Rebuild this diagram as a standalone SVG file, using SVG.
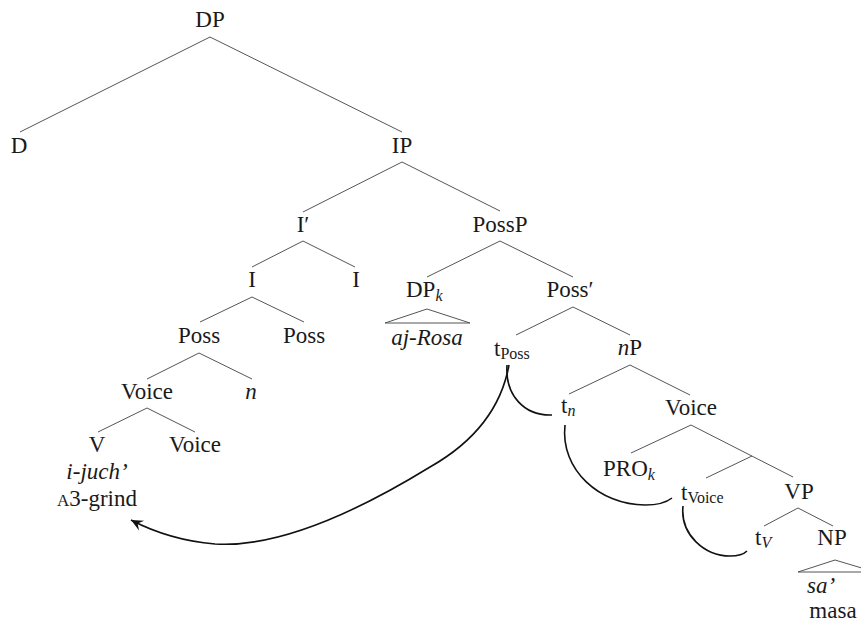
<svg xmlns="http://www.w3.org/2000/svg" width="861" height="623" viewBox="0 0 861 623">
<style>
text{font-size:23px;fill:#1a1a1a}
.m{text-anchor:middle}
.it{font-style:italic}
.sub{font-size:16px}
.br{stroke:#555;stroke-width:1;fill:none}
.tri{stroke:#555;stroke-width:1;fill:none}
.mv{stroke:#111;stroke-width:1.6;fill:none}
</style>
<defs>
<marker id="arr" viewBox="-13 -7 15 14" markerWidth="15" markerHeight="14" refX="0" refY="0" orient="auto" markerUnits="userSpaceOnUse">
<path d="M0,0 L-12,-5.5 L-7.5,0 L-12,5.5 Z" fill="#111"/>
</marker>
</defs>
<rect width="861" height="623" fill="#fff"/>
<g id="connectors">
<path class="br" d="M210,37 L20,132 M210,37 L402,132"/>
<path class="br" d="M402,162 L303,212 M402,162 L500,211"/>
<path class="br" d="M303,241 L252,267 M303,241 L355,267"/>
<path class="br" d="M252,297 L200,322 M252,297 L304,322"/>
<path class="br" d="M199,353 L147,379 M199,353 L252,379"/>
<path class="br" d="M147,408 L98,432 M147,408 L195,432"/>
<path class="br" d="M500,241 L427,277 M500,241 L573,277"/>
<path class="br" d="M573,307 L516,335 M573,307 L630,335"/>
<path class="br" d="M630,365 L569,394 M630,365 L690,395"/>
<path class="br" d="M691,425 L631,453 M691,425 L793,477"/>
<path class="br" d="M752,456 L706,478"/>
<path class="br" d="M798,508 L764,526 M798,508 L833,526"/>
<path class="tri" d="M427,309 L385,323 L470,323 Z"/>
<path class="tri" d="M835,560 L798,572 L875,572 Z"/>
<path class="mv" d="M509,365 C499,420 460,450 430,467 C360,510 280,548 215,544 C180,541 152,531 131,520" marker-end="url(#arr)"/>
<path class="mv" d="M507,365 C505,395 524,416 552,415"/>
<path class="mv" d="M565,425 C560,470 600,505 645,505 C658,505 667,502 672,498"/>
<path class="mv" d="M683,506 C680,535 705,556 730,556 C738,556 744,554 747,551"/>
</g>
<g font-family="Liberation Serif, serif">
<g id="n-DP"><text class="m" x="210" y="27">DP</text></g>
<g id="n-D"><text class="m" x="19" y="153">D</text></g>
<g id="n-IP"><text class="m" x="402" y="153">IP</text></g>
<g id="n-Ibar"><text class="m" x="303" y="232">I′</text></g>
<g id="n-I1"><text class="m" x="252" y="287">I</text></g>
<g id="n-I2"><text class="m" x="356" y="287">I</text></g>
<g id="n-Poss1"><text class="m" x="199" y="343">Poss</text></g>
<g id="n-Poss2"><text class="m" x="304" y="343">Poss</text></g>
<g id="n-Voice1"><text class="m" x="147" y="399">Voice</text></g>
<g id="n-n"><text class="m it" x="251" y="399">n</text></g>
<g id="n-V"><text class="m" x="97" y="452">V</text><text class="m it" x="97" y="479">i-juch’</text><text class="m" x="97" y="506"><tspan font-size="17">A</tspan>3-grind</text></g>
<g id="n-Voice2"><text class="m" x="195" y="452">Voice</text></g>
<g id="n-PossP"><text class="m" x="500" y="232">PossP</text></g>
<g id="n-DPk"><text x="406" y="297">DP<tspan class="it sub" dy="4">k</tspan></text><text class="m it" x="427" y="345">aj-Rosa</text></g>
<g id="n-Possbar"><text class="m" x="570" y="297">Poss′</text></g>
<g id="n-tPoss"><text x="494" y="356">t<tspan class="sub" dy="3">Poss</tspan></text></g>
<g id="n-nP"><text class="m" x="630" y="355"><tspan class="it">n</tspan>P</text></g>
<g id="n-tn"><text x="561" y="413">t<tspan class="sub it" dy="3">n</tspan></text></g>
<g id="n-Voice3"><text class="m" x="691" y="415">Voice</text></g>
<g id="n-PROk"><text x="603" y="476">PRO<tspan class="it sub" dy="4">k</tspan></text></g>
<g id="n-tVoice"><text x="681" y="500">t<tspan class="sub" dy="3">Voice</tspan></text></g>
<g id="n-VP"><text class="m" x="799" y="499">VP</text></g>
<g id="n-tV"><text x="755" y="545">t<tspan class="sub it" dy="3">V</tspan></text></g>
<g id="n-NP"><text class="m" x="832" y="545">NP</text><text class="it" x="807" y="593">sa’</text><text class="m" x="833" y="618">masa</text></g>
</g>
</svg>
